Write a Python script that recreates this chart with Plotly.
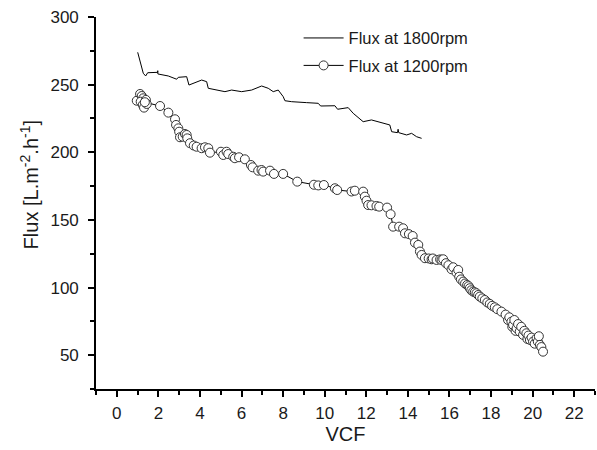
import plotly.graph_objects as go

# ---- Flux at 1800 rpm (thin line) ----
vcf_1800 = [1.005, 1.274, 1.389, 1.486, 1.966, 1.97, 1.975, 2.077, 2.476, 2.880, 2.957, 3.361, 3.471,
            4.082, 4.322, 4.399, 4.803, 5.202, 5.524, 6.005, 6.486, 6.966, 7.284, 7.524, 7.764,
            8.005, 8.087, 8.409, 9.13, 9.688, 9.803, 10.49, 10.62, 11.13, 11.37, 11.85, 12.25,
            12.74, 13.13, 13.22, 13.50, 13.53, 13.56, 13.94, 14.18, 14.42, 14.66]
flux_1800 = [273.9, 258.4, 256.4, 258.8, 259.1, 260.3, 257.9, 257.6, 256.4, 254.0, 255.4, 255.9, 249.7,
             253.4, 252.2, 247.3, 246.0, 244.8, 246.0, 244.8, 246.0, 249.0, 247.3, 244.8, 246.0,
             241.1, 238.1, 237.4, 236.7, 236.2, 234.2, 234.4, 231.8, 233.0, 228.8, 222.6, 223.9,
             221.9, 220.2, 215.2, 214.5, 217.0, 214.5, 212.8, 214.0, 211.5, 210.3]

# ---- Flux at 1200 rpm (open circles) ----
vcf_1200 = [0.96, 1.12, 1.20, 1.27, 1.15, 1.25, 1.31, 1.40, 1.44, 1.35, 2.08, 2.48, 2.80, 2.85, 2.96,
            3.0, 3.04, 3.17, 3.28, 3.36, 3.39, 3.52, 3.70, 3.84, 4.08, 4.24, 4.40, 4.48, 5.01, 5.12,
            5.28, 5.36, 5.60, 5.68, 5.88, 6.16, 6.45, 6.53, 6.80, 6.96, 7.04, 7.37, 7.56, 8.0, 8.68,
            9.48, 9.69, 9.96, 10.49, 10.6, 11.29, 11.45, 11.85, 11.93, 12.01, 12.09, 12.25, 12.49,
            12.62, 13.0, 13.17, 13.29, 13.58, 13.77, 13.86, 14.05, 14.23, 14.34, 14.5, 14.58, 14.66,
            14.82, 15.0, 15.14, 15.2, 15.38, 15.55, 15.62, 15.70, 15.83, 15.95, 16.1, 16.18, 16.34,
            16.42, 16.47, 16.55, 16.66, 16.75, 16.85, 16.92, 16.98, 17.05, 17.14, 17.22, 17.3, 17.38,
            17.46, 17.58, 17.70, 17.82, 17.94, 18.05, 18.18, 18.3, 18.5, 18.7, 18.82, 18.88, 18.98,
            19.02, 19.06, 19.12, 19.18, 19.23, 19.3, 19.38, 19.45, 19.54, 19.6, 19.70, 19.75, 19.8,
            19.87, 19.95, 20.02, 20.1, 20.19, 20.25, 20.3, 20.35, 20.42, 20.5]
flux_1200 = [238.1, 243.1, 241.6, 239.9, 237.4, 235.0, 233.0, 238.7, 235.7, 237.0, 234.2, 229.3, 224.4,
             220.2, 217.7, 215.2, 211.1, 211.5, 213.5, 212.8, 210.3, 206.7, 205.0, 204.1, 203.0, 203.7,
             203.0, 199.7, 200.4, 198.0, 200.4, 198.7, 196.7, 195.6, 196.3, 194.8, 190.6, 188.9, 186.4,
             186.9, 185.7, 186.4, 184.0, 184.0, 178.3, 176.0, 175.5, 175.8, 173.4, 172.1, 171.0, 171.6,
             170.9, 167.2, 164.2, 161.0, 160.8, 160.3, 159.8, 159.1, 154.2, 145.0, 145.0, 143.8, 140.1,
             139.5, 138.1, 133.2, 131.5, 126.6, 124.1, 121.7, 121.5, 120.9, 121.5, 120.4, 120.8, 120.4,
             120.9, 118.0, 116.5, 113.5, 115.0, 111.0, 113.0, 108.0, 106.0, 104.4, 103.0, 101.9, 101.0,
             99.5, 98.0, 97.0, 96.5, 95.8, 94.5, 93.3, 92.0, 90.8, 89.0, 87.9, 86.5, 85.4, 84.0, 82.2,
             80.0, 76.0, 78.0, 74.8, 71.0, 72.4, 76.0, 68.0, 69.9, 73.0, 67.4, 71.0, 65.0, 68.0, 66.2,
             62.0, 64.5, 61.3, 63.0, 60.0, 58.5, 62.5, 60.0, 64.0, 57.6, 56.0, 52.6]

x_ticks = [0, 2, 4, 6, 8, 10, 12, 14, 16, 18, 20, 22]
y_ticks = [50, 100, 150, 200, 250, 300]

FONT = "Arial, Liberation Sans, Helvetica, sans-serif"
INK = "#1a1a1a"

fig = go.Figure()
fig.add_trace(go.Scatter(
    x=vcf_1800, y=flux_1800, mode="lines", name="Flux at 1800rpm",
    legendgroup="a",
    line=dict(color="black", width=1)))
fig.add_trace(go.Scatter(
    x=vcf_1200, y=flux_1200, mode="lines+markers", name="Flux at 1200rpm",
    legendgroup="b",
    line=dict(color="black", width=1),
    marker=dict(symbol="circle", size=9, color="white",
                line=dict(color="#333333", width=1))))

axis_common = dict(
    showline=True, linecolor="black", linewidth=1.6, mirror=False,
    ticks="outside", ticklen=6, tickwidth=1.6, tickcolor="black",
    showgrid=False, zeroline=False,
    tickfont=dict(family=FONT, size=17, color=INK),
)

fig.update_xaxes(
    range=[-1, 23], tickmode="array", tickvals=x_ticks,
    ticktext=[str(v) for v in x_ticks],
    minor=dict(ticks="outside", ticklen=4, tickwidth=1.6, tickcolor="black", dtick=1, tick0=-1),
    title=dict(text="VCF", font=dict(family=FONT, size=20, color=INK), standoff=0),
    ticklabelstandoff=2,
    **axis_common)
fig.update_yaxes(
    range=[25, 300], tickmode="array", tickvals=y_ticks,
    ticktext=[str(v) for v in y_ticks],
    minor=dict(ticks="outside", ticklen=4, tickwidth=1.6, tickcolor="black", dtick=25, tick0=25),
    ticklabelstandoff=6,
    **axis_common)

fig.add_annotation(
    text="Flux [L.m<sup>-2</sup>.h<sup>-1</sup>]",
    xref="paper", yref="paper", x=-0.1343, y=0.55,
    xanchor="center", yanchor="middle", textangle=-90, showarrow=False,
    font=dict(family=FONT, size=20, color=INK))

fig.update_layout(
    width=597, height=450,
    margin=dict(l=96, r=2, t=17, b=61),
    plot_bgcolor="white", paper_bgcolor="white",
    showlegend=True,
    legend=dict(x=0.406, y=0.99, xanchor="left", yanchor="top",
                bgcolor="rgba(0,0,0,0)", borderwidth=0,
                font=dict(family=FONT, size=16.5, color=INK),
                traceorder="grouped", tracegroupgap=3, itemwidth=40),
)

fig.write_html("out.html")
